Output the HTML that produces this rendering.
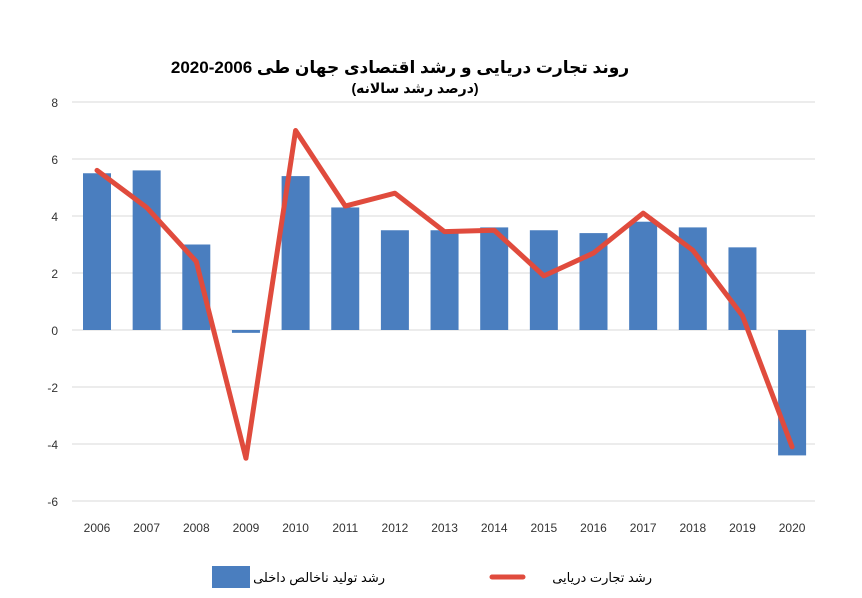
<!DOCTYPE html>
<html><head><meta charset="utf-8"><style>
body{margin:0;background:#fff;font-family:"Liberation Sans","DejaVu Sans",sans-serif;}
svg text{font-family:"Liberation Sans","DejaVu Sans",sans-serif;}
</style></head><body>
<svg id="c" width="862" height="593" xmlns="http://www.w3.org/2000/svg">
<rect width="862" height="593" fill="#fff"/>
<text x="400" y="73" text-anchor="middle" font-size="17" font-weight="bold" fill="#000">روند تجارت دریایی و رشد اقتصادی جهان طی 2006-2020</text>
<text x="415" y="93" text-anchor="middle" font-size="14" font-weight="bold" fill="#000">(درصد رشد سالانه)</text>
<g id="grid"></g><g id="bars"></g><g id="line"></g><g id="xl"></g><g id="yl"></g>
<rect x="212" y="566" width="38" height="22" fill="#4a7ebf"/>
<text x="385" y="582" text-anchor="end" font-size="13">رشد تولید ناخالص داخلی</text>
<line x1="492" y1="577" x2="523" y2="577" stroke="#e04b3d" stroke-width="5" stroke-linecap="round"/>
<text x="652" y="582" text-anchor="end" font-size="13">رشد تجارت دریایی</text>
</svg>
<script>
const years=["2006","2007","2008","2009","2010","2011","2012","2013","2014","2015","2016","2017","2018","2019","2020"];
const gdp=[5.5,5.6,3.0,-0.1,5.4,4.3,3.5,3.5,3.6,3.5,3.4,3.8,3.6,2.9,-4.4];
const trade=[5.6,4.3,2.4,-4.5,7.0,4.35,4.8,3.45,3.5,1.9,2.7,4.1,2.8,0.5,-4.1];
const yTicks=[8,6,4,2,0,-2,-4,-6];
const NS="http://www.w3.org/2000/svg";
const y=v=>330-v*28.5;
const x=i=>97+i*49.65;
function mk(t,a,p){const e=document.createElementNS(NS,t);for(const k in a)e.setAttribute(k,a[k]);document.getElementById(p).appendChild(e);return e;}
yTicks.forEach(t=>{
 const g=mk('line',{x1:72,x2:815,y1:y(t),y2:y(t),stroke:'#d9d9d9','stroke-width':1},'grid');
 
 
 const l=mk('text',{x:58,y:y(t)+5,'text-anchor':'end','font-size':12,fill:'#333'},'yl');
 l.textContent=t;
 
 
});
years.forEach((yr,i)=>{
 const v=gdp[i];
 const b=mk('rect',{x:x(i)-14,width:28,y:Math.min(y(v),y(0)),height:Math.abs(y(v)-y(0)),fill:'#4a7ebf'},'bars');
 
 
 const l=mk('text',{x:x(i),y:532,'text-anchor':'middle','font-size':12,fill:'#333'},'xl');
 l.textContent=yr;
 
 
});
const p=mk('polyline',{points:trade.map((v,i)=>x(i)+','+y(v)).join(' '),fill:'none',stroke:'#e04b3d','stroke-width':5,'stroke-linejoin':'round','stroke-linecap':'round'},'line');


</script>
</body></html>
